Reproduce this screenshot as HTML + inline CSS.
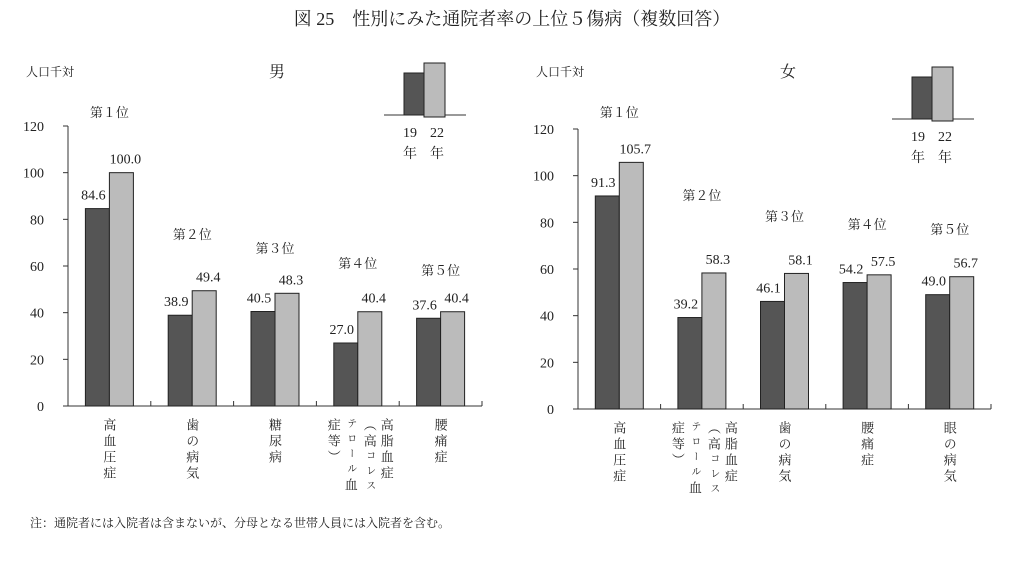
<!DOCTYPE html>
<html><head><meta charset="utf-8">
<style>
body{margin:0;width:1024px;height:574px;background:#fff;overflow:hidden;font-family:"Liberation Serif","Noto Serif CJK SC","Noto Sans CJK JP",serif;color:#222}
svg text{font-family:"Liberation Serif","Noto Serif CJK SC","Noto Sans CJK JP",serif;fill:#222}
.vt{position:absolute;writing-mode:vertical-rl;font-size:13px;line-height:15px;letter-spacing:3px;color:#222}
.sm{font-size:10px;letter-spacing:5px}
</style></head><body>
<svg id="chart" width="1024" height="574" style="position:absolute;left:0;top:0">
<text x="512" y="25" text-anchor="middle" font-size="18">図 25　性別にみた通院者率の上位５傷病（複数回答）</text>
<text x="30" y="527" font-size="12">注：通院者には入院者は含まないが、分母となる世帯人員には入院者を含む。</text>
</svg>
<div id="labels"></div>
<script>
const maleH19=[84.6,38.9,40.5,27.0,37.6];
const maleH22=[100.0,49.4,48.3,40.4,40.4];
const femH19=[91.3,39.2,46.1,54.2,49.0];
const femH22=[105.7,58.3,58.1,57.5,56.7];
const ranks=["第１位","第２位","第３位","第４位","第５位"];
const yTicks=[0,20,40,60,80,100,120];
const maleCats=["高血圧症","歯の病気","糖尿病","HL","腰痛症"];
const femCats=["高血圧症","HL","歯の病気","腰痛症","眼の病気"];
const NS="http://www.w3.org/2000/svg";
const svg=document.getElementById('chart');
const lab=document.getElementById('labels');
function mk(t,a,p){const e=document.createElementNS(NS,t);for(const k in a)e.setAttribute(k,a[k]);(p||svg).appendChild(e);return e;}
function panel(P){
  const g=mk('g',{});
  
  
  const y=v=>P.y0-(v/120)*(P.y0-P.y120);
  const gw=(P.x1-P.x0)/5;
  const cx=i=>P.x0+gw*(i+0.5);
  const ax=mk('line',{x1:P.x0,y1:y(120),x2:P.x0,y2:P.y0,stroke:'#333','stroke-width':1},g);
  
  const xa=mk('line',{x1:P.x0,y1:P.y0,x2:P.x1,y2:P.y0,stroke:'#333','stroke-width':1},g);
  
  yTicks.forEach(t=>{
    mk('line',{x1:P.x0-5,y1:y(t),x2:P.x0,y2:y(t),stroke:'#333'},g);
    const tx=mk('text',{x:P.x0-24,y:y(t)+5,'text-anchor':'end','font-size':14},g);
    tx.textContent=t;
    
  });
  for(let i=1;i<=5;i++){const xx=P.x0+gw*i;mk('line',{x1:xx,y1:P.y0-5,x2:xx,y2:P.y0,stroke:'#333'},g);}
  const yl=mk('text',{x:P.x0-42,y:76,'font-size':12},g);yl.textContent='人口千対';
  
  const tt=mk('text',{x:P.titleX,y:77,'font-size':16,'text-anchor':'middle'},g);tt.textContent=P.title;
  
  const bw=24;
  for(let i=0;i<5;i++){
    const c=cx(i);
    const b1=mk('rect',{x:c-bw,y:y(P.a[i]),width:bw,height:P.y0-y(P.a[i]),fill:'#555',stroke:'#222','stroke-width':1},g);
    
    const b2=mk('rect',{x:c,y:y(P.b[i]),width:bw,height:P.y0-y(P.b[i]),fill:'#bbb',stroke:'#222','stroke-width':1},g);
    
    const v1=mk('text',{x:c-bw/2-4,y:y(P.a[i])-9,'text-anchor':'middle','font-size':14},g);v1.textContent=P.a[i].toFixed(1);
    
    const v2=mk('text',{x:c+bw/2+4,y:y(P.b[i])-9,'text-anchor':'middle','font-size':14},g);v2.textContent=P.b[i].toFixed(1);
    
    const r=mk('text',{x:c,y:P.rankY[i]+5,'text-anchor':'middle','font-size':13},g);r.textContent=ranks[i];
    
    const d=document.createElement('div');
    
    
    if(P.cats[i]==='HL'){
      d.style.cssText='position:absolute;left:'+(c-36)+'px;top:'+(P.y0+12)+'px;width:72px;height:80px';
      d.innerHTML='<div class="vt" style="position:absolute;right:0;top:0">高脂血症</div><div class="vt" style="position:absolute;right:17px;top:0">（高<span class="sm">コレス</span></div><div class="vt sm" style="position:absolute;right:36px;top:0">テロール<span style="font-size:13px;letter-spacing:0">血</span></div><div class="vt" style="position:absolute;right:53px;top:0">症等）</div>';
    }else{
      d.className='vt';d.textContent=P.cats[i];
      d.style.left=(c-8)+'px';d.style.top=(P.y0+12)+'px';
    }
    lab.appendChild(d);
  }
  const L=P.leg;
  mk('line',{x1:L.x-20,y1:L.base,x2:L.x+62,y2:L.base,stroke:'#333'},g);
  const l1=mk('rect',{x:L.x,y:L.base-42,width:20,height:42,fill:'#555',stroke:'#222'},g);
  
  const l2=mk('rect',{x:L.x+20,y:L.base-52,width:21,height:54,fill:'#bbb',stroke:'#222'},g);
  
  [['19',L.x+6],['22',L.x+33]].forEach(([s,xx])=>{
    const a=mk('text',{x:xx,y:L.base+22,'text-anchor':'middle','font-size':14},g);a.textContent=s;
    
    const b=mk('text',{x:xx,y:L.base+43,'text-anchor':'middle','font-size':14},g);b.textContent='年';
  });
}
panel({name:'male',x0:68,x1:482,y0:406,y120:126,a:maleH19,b:maleH22,cats:maleCats,title:'男',titleX:277,leg:{x:404,base:115},rankY:[112,234,248,263,270]});
panel({name:'female',x0:578,x1:991,y0:409,y120:129,a:femH19,b:femH22,cats:femCats,title:'女',titleX:788,leg:{x:912,base:119},rankY:[112,195,216,224,229]});
</script>
</body></html>
